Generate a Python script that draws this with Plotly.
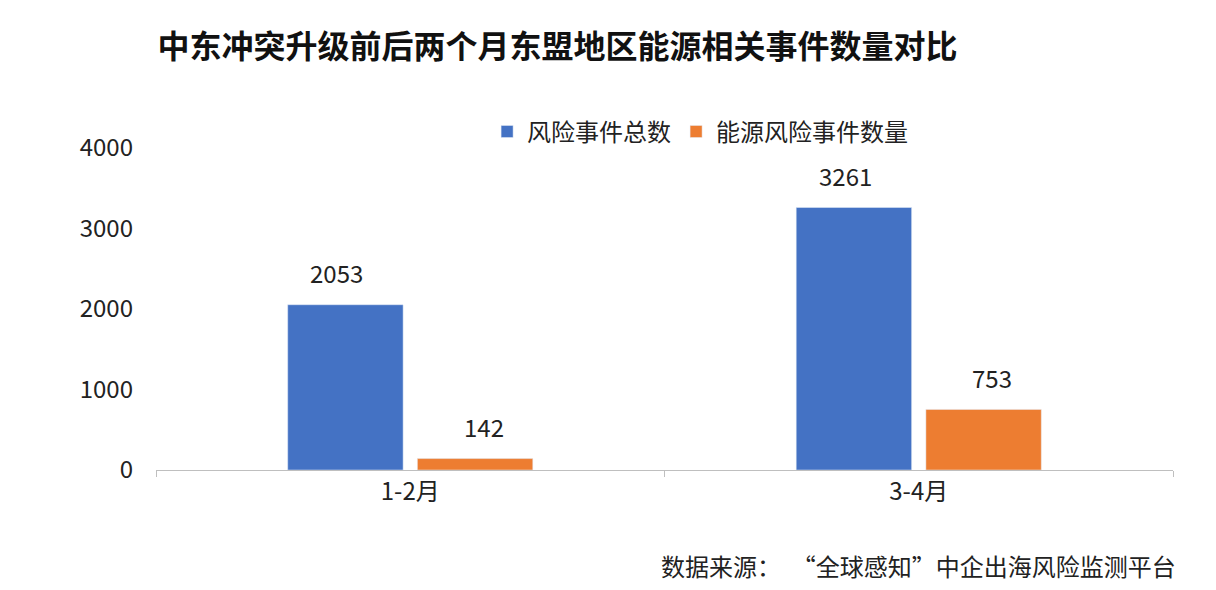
import plotly.graph_objects as go

categories = ["1-2月", "3-4月"]
total_events = [2053, 3261]
energy_events = [142, 753]
y_ticks = [0, 1000, 2000, 3000, 4000]

font = "Noto Sans CJK SC"

fig = go.Figure()
fig.add_trace(go.Bar(x=categories, y=total_events, name="风险事件总数",
                     marker_color="#4472C4", cliponaxis=False))
fig.add_trace(go.Bar(x=categories, y=energy_events, name="能源风险事件数量",
                     marker_color="#ED7D31", cliponaxis=False))

# value labels placed above bars
offsets = [-0.145, 0.145]
for vals, off in zip([total_events, energy_events], offsets):
    for i, v in enumerate(vals):
        fig.add_annotation(x=i + off, y=v, text=str(v), showarrow=False, yshift=32,
                           font=dict(size=24, color="#222"))

fig.update_layout(
    width=1216, height=590,
    paper_bgcolor="white", plot_bgcolor="white",
    font=dict(family=font, size=24, color="#222"),
    barmode="group", bargap=0.49, bargroupgap=0.11,
    margin=dict(l=148, r=51, t=140, b=128),
    title=dict(text="<b>中东冲突升级前后两个月东盟地区能源相关事件数量对比</b>",
               x=0.123, xanchor="left", y=0.935, yanchor="middle",
               font=dict(size=32, color="#111")),
    legend=dict(orientation="h", x=0.535, xanchor="center", y=1.05, yanchor="middle",
                font=dict(size=24)),
    xaxis=dict(showline=True, linecolor="#bfbfbf", ticks="outside", tickcolor="#bfbfbf",
               ticklen=6, tickson="boundaries", tickfont=dict(size=24), automargin=False),
    yaxis=dict(range=[0, 4000], tickvals=y_ticks, showgrid=False, zeroline=False,
               tickfont=dict(size=24), ticklabelstandoff=22, automargin=False),
)
fig.add_annotation(text="数据来源：  “全球感知”中企出海风险监测平台", xref="paper", yref="paper",
                   x=1.005, y=-0.297, xanchor="right", yanchor="middle", showarrow=False,
                   font=dict(size=24, color="#222"))

fig.write_html("out.html")
